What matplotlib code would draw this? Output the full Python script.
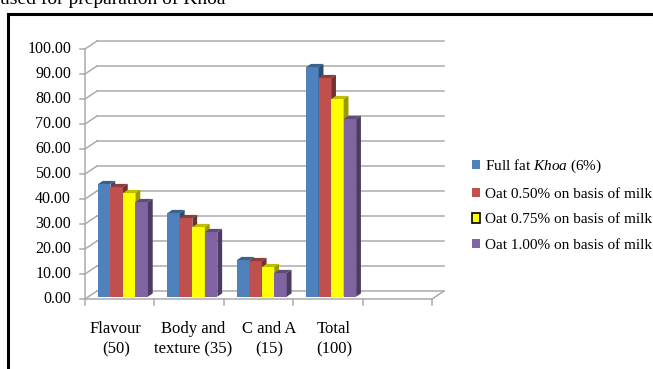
import matplotlib.pyplot as plt
from matplotlib.patches import Polygon, Patch
from matplotlib.lines import Line2D
from matplotlib.colors import to_rgb

plt.rcParams['font.family'] = ['Liberation Serif', 'DejaVu Serif']
plt.rcParams['mathtext.fontset'] = 'custom'
plt.rcParams['mathtext.rm'] = 'Liberation Serif'
plt.rcParams['mathtext.it'] = 'Liberation Serif:italic'

# Sensory scores
categories = ['Flavour\n(50)', 'Body and\ntexture (35)', 'C and A\n(15)', 'Total\n(100)']
full_fat = [45.0, 33.4, 14.6, 91.8]
oat_050 = [43.8, 31.4, 14.2, 87.4]
oat_075 = [41.4, 27.8, 11.8, 79.0]
oat_100 = [37.8, 25.8, 9.4, 71.0]
series_labels = ['Full fat $\\it{Khoa}$ (6%)', 'Oat 0.50% on basis of milk',
                 'Oat 0.75% on basis of milk', 'Oat 1.00% on basis of milk']
y_ticks = list(range(0, 101, 10))

series = [full_fat, oat_050, oat_075, oat_100]
colors = ['#4F81BD', '#C0504D', '#FFFF00', '#8064A2']

fig = plt.figure(figsize=(6.53, 3.69), dpi=100)
ax = fig.add_axes([0, 0, 1, 1])
# one category slot = 1 x unit, 1 score point = 1 y unit
SLOT = 69.4
PXV = 2.5
ax.set_xlim(-85 / SLOT, (653 - 85) / SLOT)
ax.set_ylim(-(369 - 299) / PXV, 299 / PXV)
ax.axis('off')

n_slots = 5
DX, DY = 12 / SLOT, 8 / PXV          # depth of the back wall
grid_c = '#ababab'

# back wall gridlines + left wall slants
for v in y_ticks:
    ax.plot([DX, n_slots + DX], [v + DY, v + DY], color=grid_c, lw=1.1, zorder=1)
    ax.plot([0, DX], [v, v + DY], color=grid_c, lw=1.1, zorder=1)
    ax.plot([-0.07, 0], [v, v], color=grid_c, lw=1.1, zorder=1)
    ax.text(-0.2, v, f'{v:.2f}', ha='right', va='center', fontsize=11.5)
ax.plot([0, 0], [0, 100], color=grid_c, lw=1.1, zorder=1)

# floor
ax.plot([0, n_slots], [0, 0], color=grid_c, lw=1.1, zorder=1)
ax.plot([n_slots, n_slots + DX], [0, DY], color=grid_c, lw=1.1, zorder=1)
for i in range(n_slots + 1):
    ax.plot([i, i], [0, -2.2], color=grid_c, lw=1.1, zorder=1)


def shade(c, k):
    r, g, b = to_rgb(c)
    return (r * k, g * k, b * k)


f = 0.3
w = 0.18
gap = 0.135
bdx, bdy = 0.4 * DX, 0.4 * DY
base = f * DY
for j, (vals, col) in enumerate(zip(series, colors)):
    x0s = [i + gap + j * w + f * DX for i in range(len(vals))]
    ax.bar(x0s, vals, width=w, bottom=base, align='edge', color=col,
           edgecolor='none', zorder=3 + j)
    for x0, v in zip(x0s, vals):
        top = base + v
        ax.add_patch(Polygon([(x0, top), (x0 + w, top), (x0 + w + bdx, top + bdy),
                              (x0 + bdx, top + bdy)], closed=True,
                             color=shade(col, 0.75), lw=0, zorder=3 + j))
        ax.add_patch(Polygon([(x0 + w, base), (x0 + w + bdx, base + bdy),
                              (x0 + w + bdx, top + bdy), (x0 + w, top)], closed=True,
                             color=shade(col, 0.6), lw=0, zorder=3 + j))

# category labels (slight nudges in pixels, as the wrapped labels sit unevenly)
label_nudge = [-10, -2, 5, 0]
for i, lab in enumerate(categories):
    ax.text(i + 0.5 + DX / 2 + label_nudge[i] / SLOT, -8.8, lab, ha='center', va='top',
            fontsize=12, linespacing=1.35)

handles = [Patch(facecolor=c, edgecolor='black' if c == '#FFFF00' else 'none', lw=1.2)
           for c in colors]
fig.legend(handles, series_labels, loc='upper left', bbox_to_anchor=(472 / 653, 1 - 158 / 369),
           frameon=False, fontsize=11, handlelength=0.55, handleheight=0.55,
           handletextpad=0.3, labelspacing=0.82, borderpad=0, borderaxespad=0)

# outer frame and the heading line above it
fig.add_artist(Line2D([8 / 653, 1.01], [1 - 14 / 369, 1 - 14 / 369], color='black', lw=2.2))
fig.add_artist(Line2D([8 / 653, 8 / 653], [-0.01, 1 - 14 / 369], color='black', lw=2.2))
fig.text(0.0, 1 - 4 / 369, 'used for preparation of Khoa', fontsize=14, ha='left', va='baseline')

fig.savefig('out.png', dpi=100)
